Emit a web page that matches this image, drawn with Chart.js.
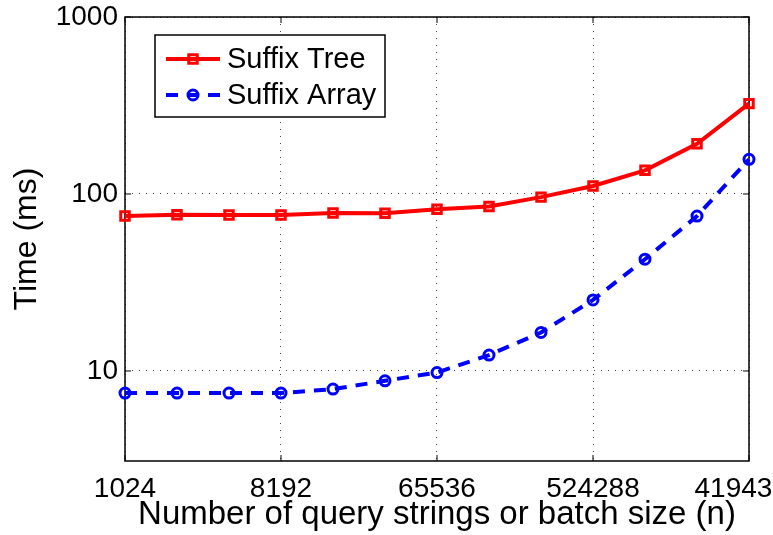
<!DOCTYPE html>
<html>
<head>
<meta charset="utf-8">
<script src="https://cdn.jsdelivr.net/npm/chart.js@4"></script>
<style>
  body { margin: 0; background: #fff; }
  #wrap { width: 773px; height: 535px; }
</style>
</head>
<body>
<div id="wrap"><canvas id="timeChart" width="773" height="535"></canvas></div>
<script>
// batch sizes (2^10 .. 2^22)
const batchSizes = [1024, 2048, 4096, 8192, 16384, 32768, 65536, 131072, 262144, 524288, 1048576, 2097152, 4194304];
const treeTimes = [75, 76.4, 76, 76, 78, 77.8, 82, 85, 96, 111, 136, 192, 324];
const arrayTimes = [7.5, 7.5, 7.5, 7.5, 7.9, 8.8, 9.8, 12.3, 16.5, 25.2, 42.8, 75, 157];
const xTicks = [1024, 8192, 65536, 524288, 4194304];
const yTicks = [10, 100, 1000];

const FONT = "'Liberation Sans', Arial, sans-serif";

const toPoints = (vals) => vals.map((v, i) => ({ x: batchSizes[i], y: v }));

// box on top/right + small inward ticks like matlab
const framePlugin = {
  id: 'frame',
  beforeDatasetsDraw(chart) {
    const { ctx, chartArea: a, scales } = chart;
    ctx.save();
    ctx.strokeStyle = '#000';
    ctx.lineWidth = 1.5;
    ctx.strokeRect(a.left, a.top, a.right - a.left, a.bottom - a.top);
    ctx.lineWidth = 1;
    scales.x.ticks.forEach(t => {
      const px = scales.x.getPixelForValue(t.value);
      ctx.beginPath();
      ctx.moveTo(px, a.bottom); ctx.lineTo(px, a.bottom - 6);
      ctx.moveTo(px, a.top); ctx.lineTo(px, a.top + 6);
      ctx.stroke();
    });
    scales.y.ticks.forEach(t => {
      const py = scales.y.getPixelForValue(t.value);
      ctx.beginPath();
      ctx.moveTo(a.left, py); ctx.lineTo(a.left + 6, py);
      ctx.moveTo(a.right, py); ctx.lineTo(a.right - 6, py);
      ctx.stroke();
    });
    ctx.restore();
  }
};

// legend inside the plot, line + marker sample
const legendPlugin = {
  id: 'legendBox',
  afterDraw(chart) {
    const ctx = chart.ctx;
    const x0 = 155, y0 = 35, w = 230, h = 82;
    ctx.save();
    ctx.fillStyle = '#fff';
    ctx.fillRect(x0, y0, w, h);
    ctx.strokeStyle = '#000';
    ctx.lineWidth = 1.5;
    ctx.strokeRect(x0, y0, w, h);
    chart.data.datasets.forEach((ds, i) => {
      const cy = y0 + 24 + i * 36;
      ctx.strokeStyle = ds.borderColor;
      ctx.lineWidth = ds.borderWidth;
      ctx.setLineDash(ds.borderDash || []);
      ctx.beginPath();
      ctx.moveTo(x0 + 11, cy);
      ctx.lineTo(x0 + 65, cy);
      ctx.stroke();
      ctx.setLineDash([]);
      ctx.lineWidth = ds.pointBorderWidth;
      ctx.strokeStyle = ds.pointBorderColor;
      ctx.beginPath();
      const r = ds.pointRadius;
      if (ds.pointStyle === 'rect') {
        const s = r * Math.SQRT1_2;
        ctx.rect(x0 + 38 - s, cy - s, 2 * s, 2 * s);
      } else {
        ctx.arc(x0 + 38, cy, r, 0, Math.PI * 2);
      }
      ctx.stroke();
      ctx.fillStyle = '#000';
      ctx.font = '29px ' + FONT;
      ctx.textBaseline = 'middle';
      ctx.textAlign = 'left';
      ctx.fillText(ds.label, x0 + 72, cy + 1);
    });
    ctx.restore();
  }
};

new Chart(document.getElementById('timeChart'), {
  type: 'line',
  data: {
    datasets: [{
      label: 'Suffix Tree',
      data: toPoints(treeTimes),
      borderColor: '#ff0000',
      borderWidth: 4,
      pointStyle: 'rect',
      pointRadius: 6,
      pointBorderWidth: 3,
      pointBorderColor: '#ff0000',
      pointBackgroundColor: 'rgba(0,0,0,0)',
      tension: 0,
      clip: false
    }, {
      label: 'Suffix Array',
      data: toPoints(arrayTimes),
      borderColor: '#0000ff',
      borderWidth: 4,
      borderDash: [12, 9],
      pointStyle: 'circle',
      pointRadius: 5,
      pointBorderWidth: 3,
      pointBorderColor: '#0000ff',
      pointBackgroundColor: 'rgba(0,0,0,0)',
      tension: 0,
      clip: false
    }]
  },
  options: {
    responsive: false,
    animation: false,
    layout: { padding: 0 },
    plugins: { legend: { display: false }, tooltip: { enabled: false } },
    scales: {
      x: {
        type: 'logarithmic',
        min: 1024,
        max: 4194304,
        bounds: 'data',
        afterBuildTicks: (s) => { s.ticks = xTicks.map(v => ({ value: v })); },
        afterFit: (s) => { s.height = 74; s.paddingLeft = 0; s.paddingRight = 24; },
        grid: { color: '#444', lineWidth: 1, drawTicks: false },
        border: { display: false, dash: [1, 6] },
        ticks: {
          autoSkip: false,
          maxRotation: 0,
          padding: 11,
          color: '#000',
          font: { family: FONT, size: 28 },
          callback: (v) => String(v)
        },
        title: {
          display: true,
          text: 'Number of query strings or batch size (n)',
          color: '#000',
          font: { family: FONT, size: 33 },
          padding: { top: 0, bottom: 0 }
        }
      },
      y: {
        type: 'logarithmic',
        min: 3.1,
        max: 1000,
        bounds: 'data',
        afterBuildTicks: (s) => { s.ticks = yTicks.map(v => ({ value: v })); },
        afterFit: (s) => { s.width = 125; s.paddingTop = 17; s.paddingBottom = 0; },
        grid: { color: '#444', lineWidth: 1, drawTicks: false },
        border: { display: false, dash: [1, 6] },
        ticks: {
          padding: 7,
          color: '#000',
          font: { family: FONT, size: 28 },
          callback: (v) => String(v)
        },
        title: {
          display: true,
          text: 'Time (ms)',
          color: '#000',
          font: { family: FONT, size: 32 },
          padding: { top: 8, bottom: 0 }
        }
      }
    }
  },
  plugins: [framePlugin, legendPlugin]
});
</script>
</body>
</html>
